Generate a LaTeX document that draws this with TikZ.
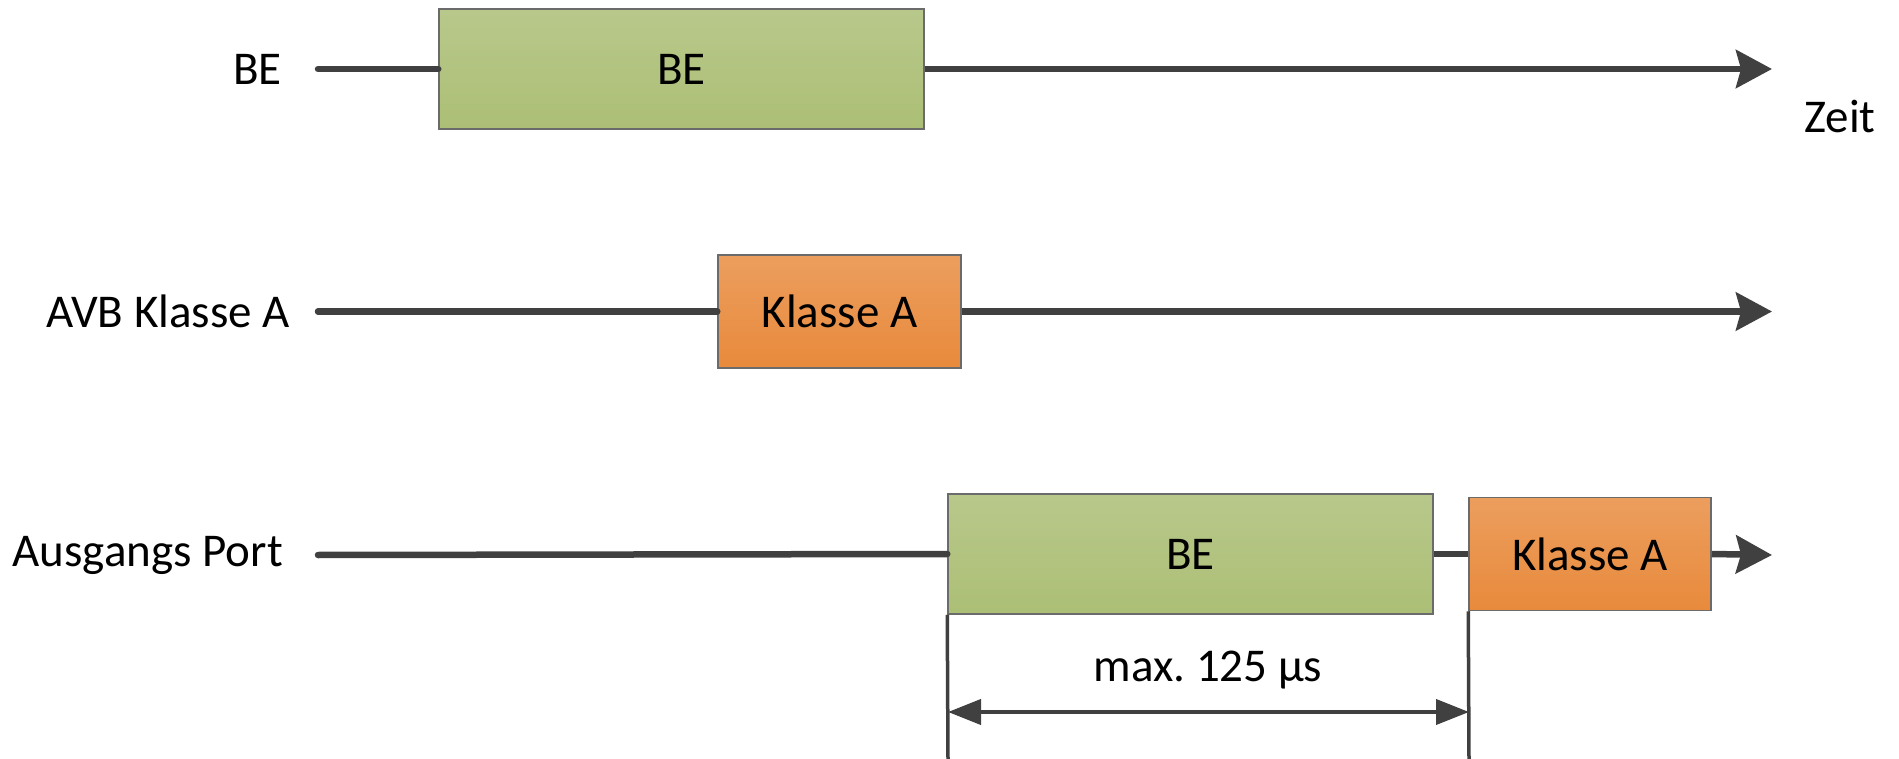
\documentclass[tikz,border=0pt]{standalone}
\usepackage{fontspec}
\setmainfont{Carlito}
\usetikzlibrary{arrows.meta}
\definecolor{lineg}{HTML}{404040}
\definecolor{bordg}{HTML}{6B6B6B}
\definecolor{gtop}{RGB}{184,200,139}
\definecolor{gbot}{RGB}{172,191,117}
\definecolor{otop}{RGB}{236,158,94}
\definecolor{obot}{RGB}{232,138,60}
\tikzset{
  lbl/.style={font=\fontsize{47}{54}\selectfont, anchor=east, inner sep=0pt},
  txt/.style={font=\fontsize{47}{54}\selectfont, inner sep=0pt},
  bebox/.style={draw=bordg, line width=1.5pt, top color=gtop, bottom color=gbot, inner sep=0pt, font=\fontsize{47}{54}\selectfont},
  kabox/.style={draw=bordg, line width=1.5pt, top color=otop, bottom color=obot, inner sep=0pt, font=\fontsize{47}{54}\selectfont},
  timeline/.style={draw=lineg, line width=6.5pt, line cap=round},
  timearrow/.style={draw=lineg, line width=6.5pt, -{Stealth[length=36pt, width=38pt, inset=5pt]}},
  dimline/.style={draw=lineg, line width=3.5pt},
  dimarrow/.style={draw=lineg, line width=4pt, {Triangle[length=33pt, width=25pt]}-{Triangle[length=33pt, width=25pt]}}
}
\begin{document}
\frenchspacing
\begin{tikzpicture}[x=1pt, y=-1pt]
\useasboundingbox (0,0) rectangle (1899,759);
% row 1
\node[lbl] (l1) at (282,69) {BE};
\node[bebox, minimum width=485pt, minimum height=120pt] (be1) at (681.5,69) {BE};
\coordinate (s1) at (318,69);
\coordinate (e1) at (1772,69);
\draw[timeline] (s1) -- (be1.west);
\draw[timearrow] (be1.east) -- (e1);
\node[txt, anchor=base] (zeit) at (1840,133) {Zeit};
% row 2
\node[lbl] (l2) at (290,311) {AVB Klasse A};
\node[kabox, minimum width=243pt, minimum height=113pt] (ka2) at (839.5,311.5) {Klasse A};
\coordinate (s2) at (318,311.5);
\coordinate (e2) at (1772,311.5);
\draw[timeline] (s2) -- (ka2.west);
\draw[timearrow] (ka2.east) -- (e2);
% row 3
\node[lbl] (l3) at (283,555) {Ausgangs Port};
\node[bebox, minimum width=485pt, minimum height=120pt] (be3) at (1190.5,554) {BE};
\node[kabox, minimum width=242pt, minimum height=113pt] (ka3) at (1590,554) {Klasse A};
\coordinate (s3) at (318,555);
\coordinate (e3) at (1772,555);
\draw[timeline] (s3) -- (be3.west);
\draw[draw=lineg, line width=6.5pt] (be3.east) -- (ka3.west);
\draw[timearrow] (ka3.east) -- (e3);
% dimension
\coordinate (d1) at (be3.south west);
\coordinate (d2) at (ka3.south west);
\coordinate (d1b) at (948,759);
\coordinate (d2b) at (1469,759);
\draw[dimline] (d1) -- (d1b);
\draw[dimline] (d2) -- (d2b);
\coordinate (a1) at (948,712);
\coordinate (a2) at (1469,712);
\draw[dimarrow] (a1) -- (a2);
\node[txt] (max) at (1208,670) {max. 125 µs};
\end{tikzpicture}
\end{document}
